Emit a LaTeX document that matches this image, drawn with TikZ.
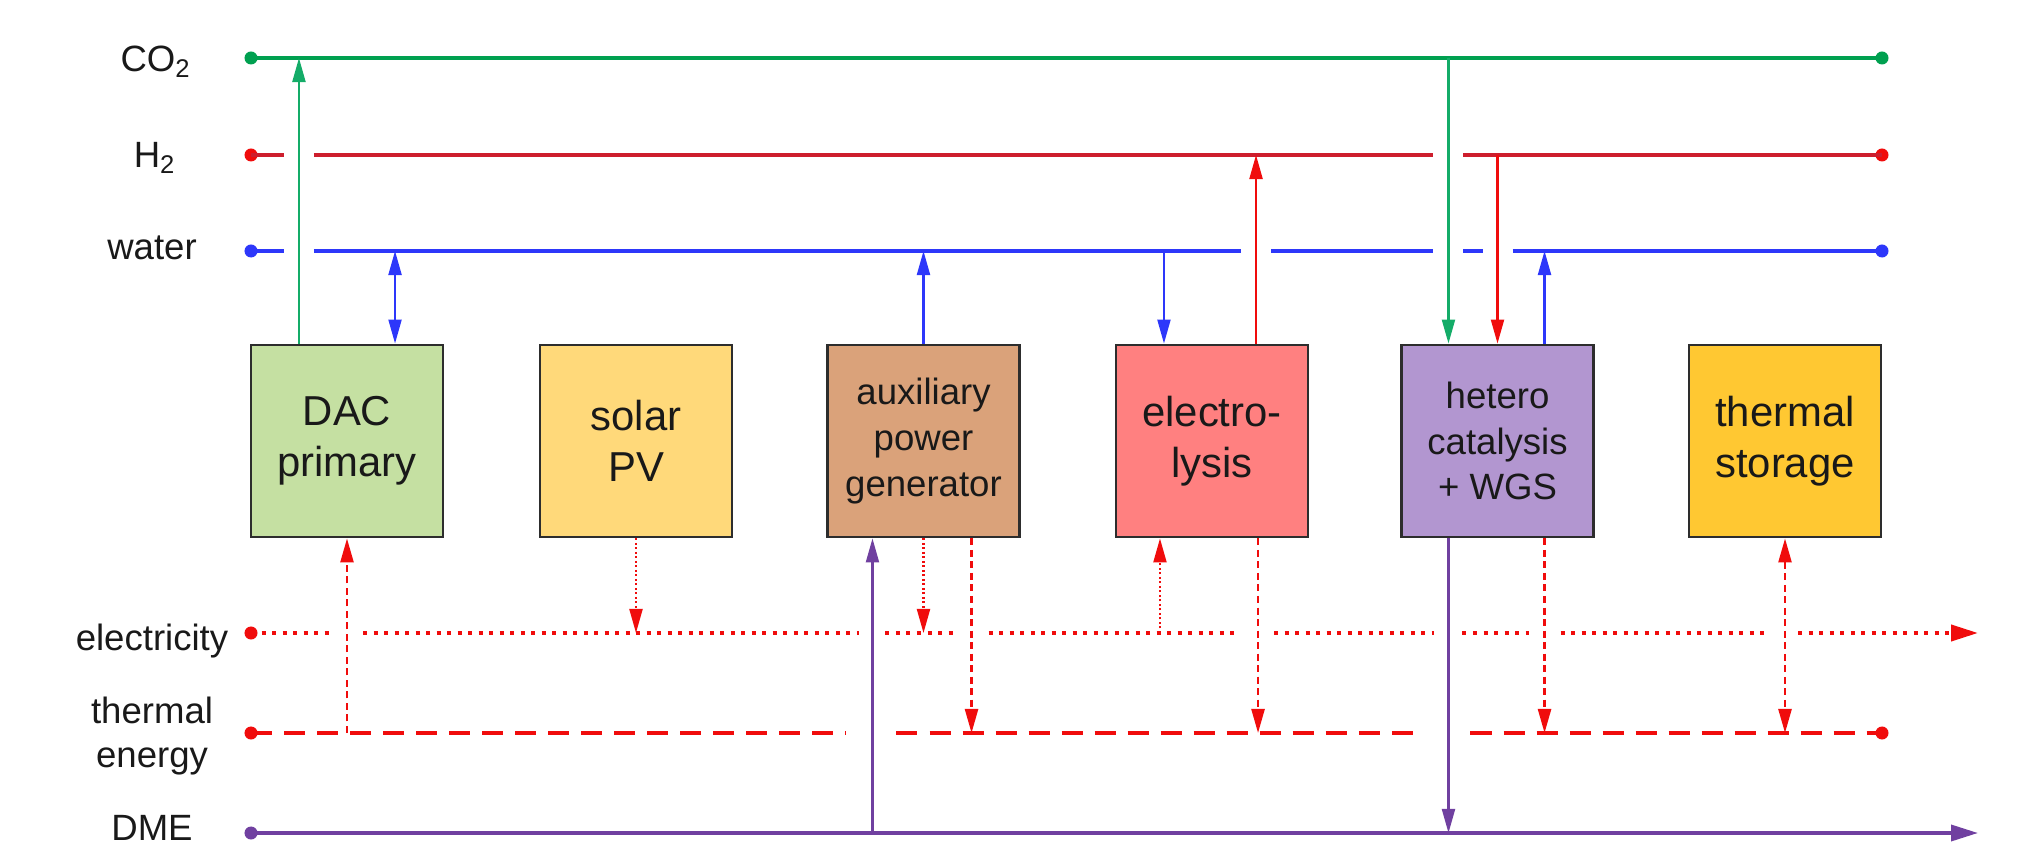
\documentclass[tikz,border=0pt]{standalone}
\usepackage{fontspec}
\setmainfont{Liberation Sans}
\usetikzlibrary{arrows.meta,calc}
\definecolor{cgreen}{RGB}{0,160,80}
\definecolor{cgreenthin}{RGB}{20,172,104}
\definecolor{ch2}{RGB}{205,30,45}
\definecolor{cred}{RGB}{240,12,12}
\definecolor{cblue}{RGB}{45,55,250}
\definecolor{cpurple}{RGB}{112,64,160}
\definecolor{fdac}{RGB}{197,224,162}
\definecolor{fsolar}{RGB}{255,217,122}
\definecolor{faux}{RGB}{218,162,122}
\definecolor{felec}{RGB}{255,128,128}
\definecolor{fhet}{RGB}{178,150,208}
\definecolor{ftherm}{RGB}{255,200,50}
\definecolor{cborder}{RGB}{45,45,45}
\definecolor{ctext}{RGB}{25,25,25}
\tikzset{
  arr/.tip={Triangle[length=0.24cm,width=0.13cm]},
  barr/.tip={Triangle[length=0.27cm,width=0.16cm]},
}
\begin{document}
\begin{tikzpicture}[x=0.01cm,y=-0.01cm,
  unit/.style={draw=cborder, line width=0.8pt, minimum width=1.92cm, minimum height=1.92cm, inner sep=0pt, align=center, text=ctext},
  big/.style={font=\fontsize{11.9}{14.6}\selectfont},
  small/.style={font=\fontsize{10.4}{13}\selectfont},
  lbl/.style={anchor=base, text=ctext, font=\fontsize{10.4}{12.5}\selectfont, inner sep=0pt, align=center},
  dot/.style={circle, fill=#1, inner sep=0pt, minimum size=0.13cm},
  bus/.style={line width=1pt},
  ebus/.style={line width=1.1pt, cred, dash pattern=on 0.04cm off 0.065cm},
  tbus/.style={line width=1.1pt, cred, dash pattern=on 0.21cm off 0.12cm},
  link/.style={line width=0.6pt},
  dlink/.style={line width=0.7pt, cred, dash pattern=on 0.07cm off 0.045cm},
  plink/.style={line width=0.6pt, cred, dash pattern=on 0.02cm off 0.025cm},
]
\useasboundingbox (0,0) rectangle (2021,846);

% labels
\node[lbl] (lco2) at (156,72) {CO\textsubscript{2}};
\node[lbl] (lh2) at (155,168) {H\textsubscript{2}};
\node[lbl] (lw) at (152,260) {water};
\node[lbl] (le) at (152,650) {electricity};
\node[lbl, anchor=center] (lt) at (152,736) {thermal\\energy};
\node[lbl] (ld) at (152,840) {DME};

% boxes
\node[unit, big, fill=fdac] (dac) at (347,441) {DAC\\primary};
\node[unit, big, fill=fsolar] (solar) at (636,441) {solar\\PV};
\node[unit, small, fill=faux] (aux) at (923.5,441) {auxiliary\\power\\generator};
\node[unit, big, fill=felec] (elec) at (1212,441) {electro-\\lysis};
\node[unit, small, fill=fhet] (het) at (1497.5,441) {hetero\\catalysis\\+ WGS};
\node[unit, big, fill=ftherm] (therm) at (1785,441) {thermal\\storage};

% connector points on boxes
\coordinate (dacTa) at ([xshift=-0.48cm]dac.north);
\coordinate (dacTb) at ([xshift=0.48cm]dac.north);
\coordinate (elecTa) at ([xshift=-0.48cm]elec.north);
\coordinate (elecTb) at ([xshift=0.44cm]elec.north);
\coordinate (hetTa) at ([xshift=-0.49cm]het.north);
\coordinate (hetTb) at ([xshift=0.47cm]het.north);
\coordinate (auxBa) at ([xshift=-0.51cm]aux.south);
\coordinate (auxBb) at ([xshift=0.48cm]aux.south);
\coordinate (elecBa) at ([xshift=-0.52cm]elec.south);
\coordinate (elecBb) at ([xshift=0.46cm]elec.south);
\coordinate (hetBa) at ([xshift=-0.49cm]het.south);
\coordinate (hetBb) at ([xshift=0.47cm]het.south);

% bus end points
\node[dot=cgreen] (co2L) at (251,58) {};
\node[dot=cgreen] (co2R) at (1882,58) {};
\node[dot=cred] (h2L) at (251,155) {};
\node[dot=cred] (h2R) at (1882,155) {};
\node[dot=cblue] (wL) at (251,251) {};
\node[dot=cblue] (wR) at (1882,251) {};
\node[dot=cred] (eL) at (251,633) {};
\coordinate (eR) at (1978,633);
\node[dot=cred] (tL) at (251,733) {};
\node[dot=cred] (tR) at (1882,733) {};
\node[dot=cpurple] (dL) at (251,833) {};
\coordinate (dR) at (1978,833);

% buses
\draw[bus,cgreen] (co2L.center) -- (co2R.center);
\draw[bus,ch2] (h2L.center) -- ($(dacTa |- h2L)+(-15,0)$)
  ($(dacTa |- h2L)+(15,0)$) -- ($(hetTa |- h2L)+(-15,0)$)
  ($(hetTa |- h2L)+(15,0)$) -- (h2R.center);
\draw[bus,cblue] (wL.center) -- ($(dacTa |- wL)+(-15,0)$)
  ($(dacTa |- wL)+(15,0)$) -- ($(elecTb |- wL)+(-15,0)$)
  ($(elecTb |- wL)+(15,0)$) -- ($(hetTa |- wL)+(-15,0)$)
  ($(hetTa |- wL)+(15,0)$) -- ($(het.north |- wL)+(-15,0)$)
  ($(het.north |- wL)+(15,0)$) -- (wR.center);
\draw[ebus] (eL.center) -- ($(dac.south |- eL)+(-17,0)$)
  ($(dac.south |- eL)+(16,0)$) -- ($(auxBa |- eL)+(-13,0)$)
  ($(auxBa |- eL)+(13,0)$) -- ($(auxBb |- eL)+(-17,0)$)
  ($(auxBb |- eL)+(17,0)$) -- ($(elecBb |- eL)+(-18,0)$)
  ($(elecBb |- eL)+(16,0)$) -- ($(hetBa |- eL)+(-14,0)$)
  ($(hetBa |- eL)+(14,0)$) -- ($(hetBb |- eL)+(-16,0)$)
  ($(hetBb |- eL)+(16,0)$) -- ($(therm.south |- eL)+(-15,0)$);
\draw[ebus,-barr] ($(therm.south |- eL)+(13,0)$) -- (eR);
\draw[tbus] (tL.center) -- ($(auxBa |- tL)+(-27,0)$)
  ($(auxBa |- tL)+(24,0)$) -- ($(hetBa |- tL)+(-28,0)$)
  ($(hetBa |- tL)+(22,0)$) -- (tR.center);
\draw[bus,cpurple,-barr] (dL.center) -- (dR);

% upper connectors
\draw[link,cgreenthin,-arr] (dacTa) -- (dacTa |- co2L);
\draw[link,cblue,arr-arr] (dacTb |- wL) -- (dacTb);
\draw[link,cblue,-arr] (aux.north) -- (aux.north |- wL);
\draw[link,cblue,-arr] (elecTa |- wL) -- (elecTa);
\draw[link,cred,-arr] (elecTb) -- (elecTb |- h2L);
\draw[link,cgreenthin,-arr] (hetTa |- co2L) -- (hetTa);
\draw[link,cred,-arr] (het.north |- h2L) -- (het.north);
\draw[link,cblue,-arr] (hetTb) -- (hetTb |- wL);

% lower connectors
\draw[dlink,-arr] (dac.south |- tL) -- (dac.south);
\draw[plink,-arr] (solar.south) -- (solar.south |- eL);
\draw[link,cpurple,-arr] (auxBa |- dL) -- (auxBa);
\draw[plink,-arr] (aux.south) -- (aux.south |- eL);
\draw[dlink,-arr] (auxBb) -- (auxBb |- tL);
\draw[plink,-arr] (elecBa |- eL) -- (elecBa);
\draw[dlink,-arr] (elecBb) -- (elecBb |- tL);
\draw[link,cpurple,-arr] (hetBa) -- (hetBa |- dL);
\draw[dlink,-arr] (hetBb) -- (hetBb |- tL);
\draw[dlink,arr-arr] (therm.south) -- (therm.south |- tL);
\end{tikzpicture}
\end{document}
